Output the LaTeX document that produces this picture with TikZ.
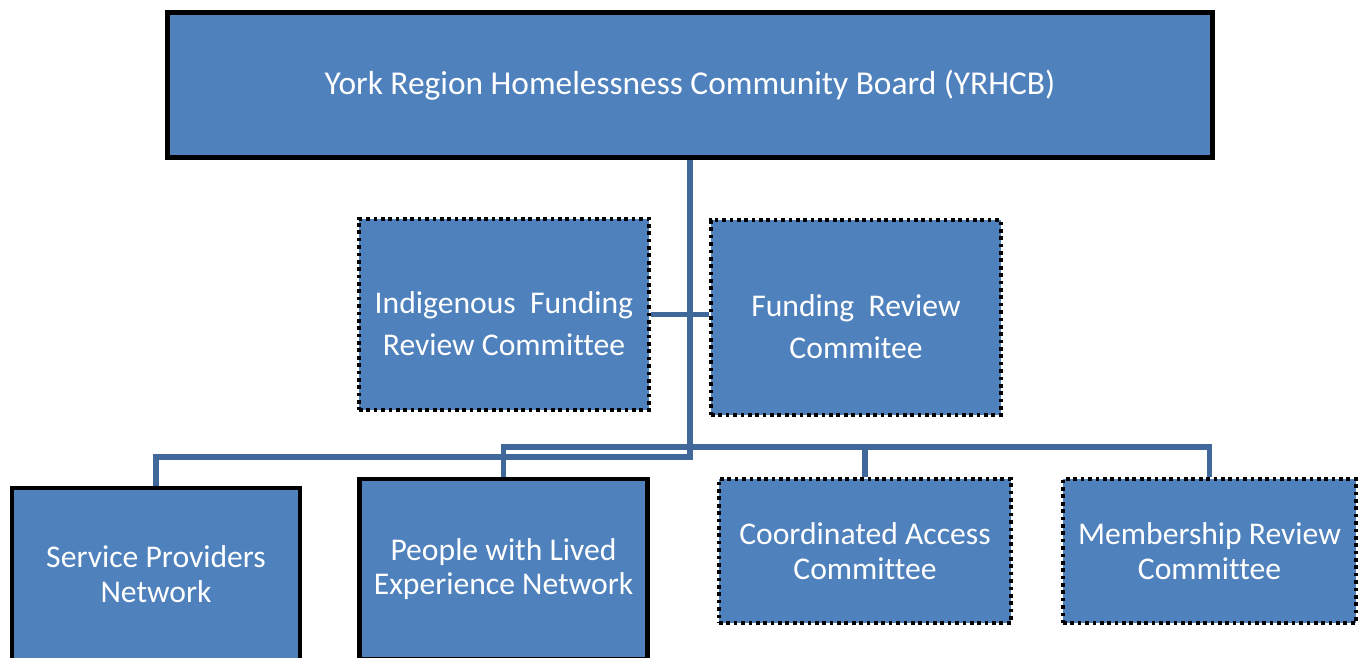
\documentclass[tikz,border=0pt]{standalone}
\usepackage{fontspec}
\setmainfont{Carlito}[Ligatures={NoCommon,NoContextual},Contextuals=NoAlternate]
\usepackage{tikz}
\usetikzlibrary{positioning}

\definecolor{boxblue}{RGB}{79,129,189}
\definecolor{linkblue}{RGB}{64,104,154}
\newcommand{\lowstrut}{\rule{0pt}{22.5pt}}

\begin{document}
\begin{tikzpicture}[x=0.02cm,y=-0.02cm]
	\tikzstyle{box}=[rectangle,fill=boxblue,text=white,align=center,inner sep=0pt,font=\fontsize{18}{19.6}\selectfont]
	\tikzstyle{solid box}=[box,draw=black,line width=2.8pt]
	\tikzstyle{dotted box}=[box,draw=black,line width=2.4pt,dash pattern=on 2.1pt off 2.1pt]
	\tikzstyle{wide text}=[font=\fontsize{18}{24}\selectfont]
	\tikzstyle{link}=[draw=linkblue,line width=3pt]
	\useasboundingbox (0,0) rectangle (1367,657);
		\node[solid box,minimum width=20.9cm,minimum height=2.9cm,font=\fontsize{19}{24}\selectfont] (board) at (690,85) {York Region Homelessness Community Board (YRHCB)};
		\node[dotted box,wide text,minimum width=5.8cm,minimum height=3.82cm] (indig) at (504,314.5) {\lowstrut Indigenous~ Funding\\Review Committee};
		\node[dotted box,wide text,minimum width=5.8cm,minimum height=3.9cm] (fund) at (856,317.5) {\lowstrut Funding~ Review\\Commitee};
		\node[solid box,minimum width=5.76cm,minimum height=3.44cm] (serv) at (156,574) {Service Providers\\Network};
		\node[solid box,minimum width=5.76cm,minimum height=3.6cm] (people) at (503.5,569) {People with Lived\\Experience Network};
		\node[dotted box,minimum width=5.84cm,minimum height=2.88cm] (coord) at (865,551) {Coordinated Access\\Committee};
		\node[dotted box,minimum width=5.86cm,minimum height=2.88cm] (member) at (1209.5,551) {Membership Review\\Committee};
		\coordinate (split) at (690,457);
		\coordinate (bus) at (865,447);
			\draw[link] (board.south) -- (split) -| (serv.north);
			\draw[link] (people.north) |- (bus) -| (member.north);
			\draw[link] (bus) -- (coord.north);
			\draw[link] (indig.east) -- (indig.east -| fund.west);
\end{tikzpicture}
\end{document}
